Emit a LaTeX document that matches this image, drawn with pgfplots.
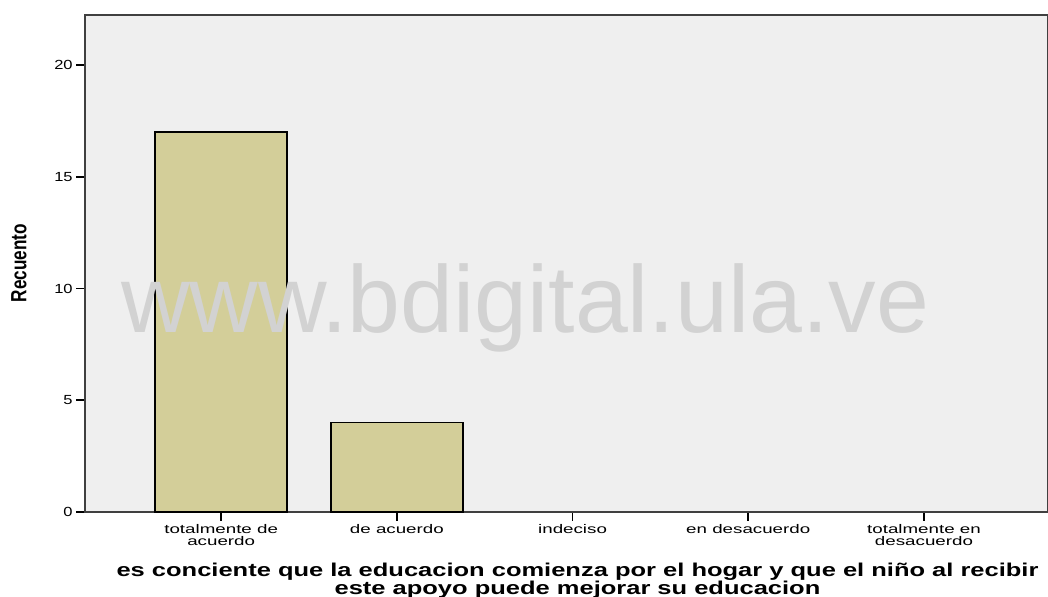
\documentclass[border=0pt]{standalone}
\usepackage{pgfplots}
\pgfplotsset{compat=1.18}
\usepackage{fontspec}
\setmainfont{Liberation Sans}
\definecolor{bgc}{HTML}{EFEFEF}
\definecolor{barc}{HTML}{D3CE99}
\definecolor{wm}{HTML}{D2D2D2}
\newcommand\tl[1]{\scalebox{1.5}[1]{\fontsize{6.25bp}{5.3bp}\selectfont\begin{tabular}[t]{@{}c@{}}#1\end{tabular}}}
\newcommand\yl[1]{\scalebox{1.25}[1]{\fontsize{6.6bp}{7bp}\selectfont #1}}
\begin{document}
\begin{tikzpicture}
\path[use as bounding box] (0,0) rectangle (524bp,298.5bp);
\begin{axis}[
  at={(42.5bp,42.5bp)}, anchor=south west,
  scale only axis, width=481.5bp, height=248.5bp,
  xmin=-0.775, xmax=4.706, ymin=0, ymax=22.24,
  axis background/.style={fill=bgc},
  axis line style={draw=black!75, line width=0.9pt},
  ytick={0,5,10,15,20},
  yticklabels={\yl{0},\yl{5},\yl{10},\yl{15},\yl{20}},
  xtick={0,1,2,3,4},
  xticklabels={\tl{totalmente de\\acuerdo}, \tl{de acuerdo}, \tl{indeciso}, \tl{en desacuerdo}, \tl{totalmente en\\desacuerdo}},
  xticklabel style={anchor=north, inner sep=0pt, yshift=-1.5bp},
  yticklabel style={inner sep=0pt, xshift=-1.5bp},
  tick align=outside, tick pos=left,
  major tick length=4.5bp,
  tick style={black, line width=0.8pt},
  ybar, bar width=66bp,
  clip=false,
]
\addplot[fill=barc, draw=black, line width=0.8pt] coordinates {(0,17) (1,4)};
\end{axis}
\node[text=wm, font=\fontsize{47.5bp}{47.5bp}\selectfont, anchor=base] at (262.5bp,132bp) {www.bdigital.ula.ve};
\node[rotate=90, inner sep=0pt] at (9.5bp,167bp) {\scalebox{0.78}[1]{\bfseries\fontsize{11bp}{12bp}\selectfont Recuento}};
\node[anchor=base, inner sep=0pt] at (288.75bp,10.5bp) {\scalebox{1.37}[1]{\bfseries\fontsize{9.3bp}{8bp}\selectfont\begin{tabular}[t]{@{}c@{}}es conciente que la educacion comienza por el hogar y que el niño al recibir\\este apoyo puede mejorar su educacion\end{tabular}}};
\end{tikzpicture}
\end{document}
